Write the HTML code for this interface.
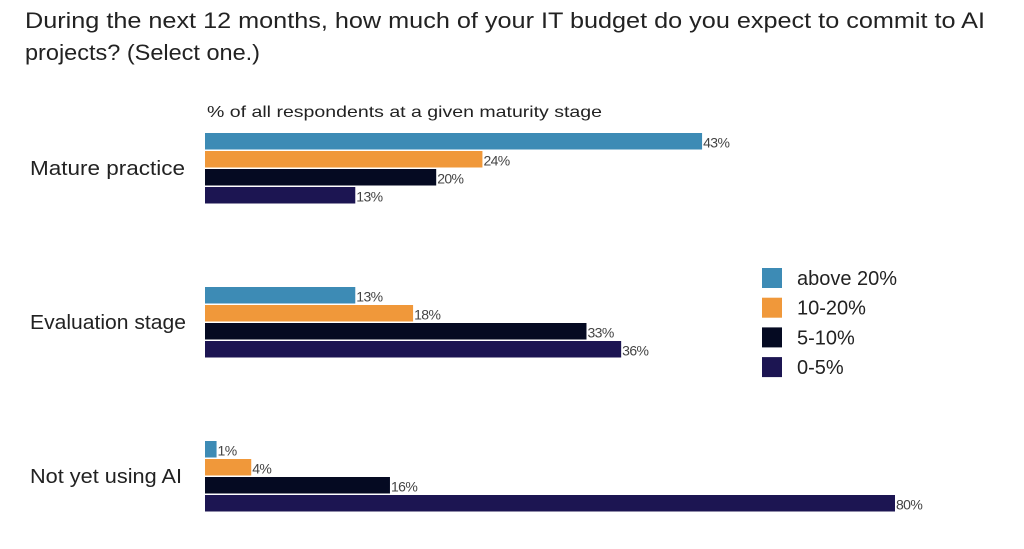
<!DOCTYPE html>
<html><head><meta charset="utf-8"><style>
body{margin:0;background:#fff;width:1024px;height:544px;overflow:hidden;font-family:"Liberation Sans",sans-serif}
</style></head><body>
<svg width="1024" height="544">
<text x="25" y="28" font-size="22.5" fill="#222" textLength="960" lengthAdjust="spacingAndGlyphs">During the next 12 months, how much of your IT budget do you expect to commit to AI</text>
<text x="25" y="60" font-size="22.5" fill="#222" textLength="235" lengthAdjust="spacingAndGlyphs">projects? (Select one.)</text>
<text x="207" y="117" font-size="16" fill="#222" textLength="395" lengthAdjust="spacingAndGlyphs">% of all respondents at a given maturity stage</text>
<g id="bars"></g>
<g id="legend"></g>
</svg>
<script>
const categories=["Mature practice","Evaluation stage","Not yet using AI"];
const catLens=[155,156,152];
const seriesNames=["above 20%","10-20%","5-10%","0-5%"];
const above20=[43,13,1];
const s10to20=[24,18,4];
const s5to10=[20,33,16];
const s0to5=[13,36,80];
const colors=["#3d8bb5","#f0983a","#050a22","#1c1552"];
const series=[above20,s10to20,s5to10,s0to5];
const NS="http://www.w3.org/2000/svg";
const x0=205,pxPer=11.56,maxW=690;
function xw(v){return Math.min(v*pxPer,maxW);}
const groupTop=[133,287,441],pitch=18,bh=16.5;
const g=document.getElementById('bars');
categories.forEach((c,ci)=>{
 const t=document.createElementNS(NS,'text');
 
 
 t.setAttribute('x',30);t.setAttribute('y',groupTop[ci]+2*pitch+6);
 t.setAttribute('font-size','20');t.setAttribute('fill','#222');
 t.setAttribute('textLength',catLens[ci]);t.setAttribute('lengthAdjust','spacingAndGlyphs');
 t.textContent=c;g.appendChild(t);
 series.forEach((s,si)=>{
  const y=groupTop[ci]+si*pitch,w=xw(s[ci]);
  const r=document.createElementNS(NS,'rect');
  
  
  r.setAttribute('x',x0);r.setAttribute('y',y);r.setAttribute('width',w);r.setAttribute('height',bh);
  r.setAttribute('fill',colors[si]);g.appendChild(r);
  const l=document.createElementNS(NS,'text');
  
  
  l.setAttribute('x',x0+w+1);l.setAttribute('y',y+bh-2);
  l.setAttribute('font-size','14');l.setAttribute('fill','#444');
  l.setAttribute('letter-spacing','-0.6');
  l.textContent=s[ci]+'%';g.appendChild(l);
 });
});
const lg=document.getElementById('legend');
seriesNames.forEach((n,i)=>{
 const y=268+i*29.7;
 const r=document.createElementNS(NS,'rect');
 
 
 r.setAttribute('x',762);r.setAttribute('y',y);r.setAttribute('width',20);r.setAttribute('height',20);
 r.setAttribute('fill',colors[i]);lg.appendChild(r);
 const t=document.createElementNS(NS,'text');
 
 
 t.setAttribute('x',797);t.setAttribute('y',y+17);
 t.setAttribute('font-size','20');t.setAttribute('fill','#222');
 t.textContent=n;lg.appendChild(t);
});
</script>
</body></html>
